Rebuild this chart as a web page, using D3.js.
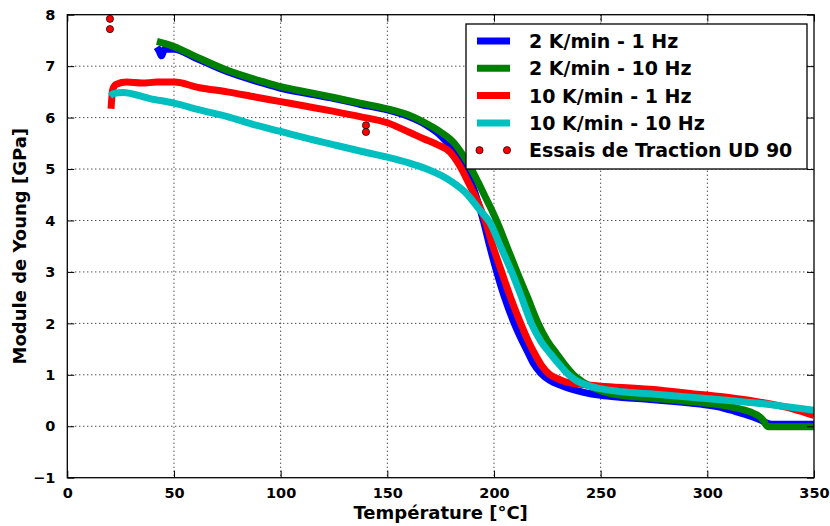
<!DOCTYPE html>
<html><head><meta charset="utf-8">
<script src="https://cdn.jsdelivr.net/npm/d3@7"></script>
<style>
html,body{margin:0;padding:0;background:#fff;}
svg{display:block;font-family:"DejaVu Sans",sans-serif;font-weight:bold;}
</style></head>
<body><svg id="c" width="830" height="526"></svg>
<script>
// Data: [Temperature °C, Young's modulus GPa]
const blue_2K_1Hz = [[42,7.37],[43,7.30],[44.2,7.2],[45.5,7.33],[50,7.33],[60,7.16],[75,6.89],[90,6.69],[100,6.57],[112,6.47],[125,6.37],[137,6.26],[150,6.15],[160,6.02],[168,5.86],[175,5.65],[180,5.42],[184,5.18],[187.5,4.95],[191,4.55],[195,4.0],[198,3.5],[201.3,3.0],[205,2.5],[209.5,2.0],[212.5,1.72],[215.5,1.47],[218.5,1.22],[222,1.03],[226.3,0.89],[231,0.8],[235.6,0.73],[242,0.66],[250,0.6],[260,0.56],[273,0.52],[296.5,0.43],[305,0.38],[313,0.29],[320,0.2],[325,0.12],[328,0.06],[330,0.04],[350,0.04]];
const green_2K_10Hz = [[42,7.48],[50,7.38],[60,7.19],[75,6.92],[90,6.72],[100,6.60],[112,6.50],[125,6.39],[137.2,6.28],[150,6.17],[160,6.05],[168.5,5.88],[175,5.72],[181,5.52],[185,5.3],[189,5.03],[192.5,4.75],[196,4.45],[199,4.2],[202,3.92],[206,3.5],[211,2.98],[216,2.48],[220.5,2.02],[225,1.66],[229.4,1.41],[233.5,1.18],[237.2,1.0],[242,0.85],[247,0.74],[250.5,0.68],[255,0.63],[262,0.59],[273,0.55],[296.5,0.46],[305,0.42],[313,0.36],[320,0.28],[324.7,0.18],[326.5,0.1],[328,0.0],[330,-0.01],[350,-0.01]];
const red_10K_1Hz = [[20.5,6.17],[21.3,6.55],[23,6.65],[27.8,6.69],[35,6.67],[42,6.69],[50,6.69],[62,6.58],[75,6.50],[88,6.40],[100,6.31],[112,6.22],[125,6.12],[137.2,6.02],[150,5.9],[160.6,5.71],[167,5.59],[173.2,5.48],[179.4,5.33],[184,5.06],[188.8,4.67],[192,4.4],[195.8,4.0],[199.5,3.5],[203.6,3.0],[207.8,2.5],[212.5,2.0],[216.5,1.62],[219.5,1.38],[222.5,1.17],[225.5,1.03],[229,0.94],[233,0.87],[238,0.83],[243.5,0.8],[250,0.78],[273,0.72],[296.5,0.62],[310,0.56],[324.7,0.47],[340,0.34],[350,0.21]];
const cyan_10K_10Hz = [[20,6.42],[22,6.47],[26,6.49],[38.8,6.37],[50,6.28],[62,6.15],[75,6.02],[87,5.87],[100,5.73],[112,5.6],[125,5.47],[137.2,5.35],[150,5.23],[160,5.12],[168.5,5.0],[175,4.88],[181,4.73],[187.2,4.52],[193.4,4.2],[198.2,3.95],[203,3.5],[208.3,3.0],[213,2.5],[217.5,2.0],[222,1.65],[227,1.38],[231,1.18],[234.5,1.02],[238.5,0.89],[243.5,0.8],[250,0.73],[260,0.67],[273,0.63],[296.5,0.55],[313,0.49],[330,0.42],[350,0.31]];
const tensileTests = [[20,7.92],[20,7.72],[140,5.85],[140,5.72]];

const seriesNames = ["2 K/min - 1 Hz","2 K/min - 10 Hz","10 K/min - 1 Hz","10 K/min - 10 Hz"];
const pointsName = "Essais de Traction UD 90";
const xTicks = [0,50,100,150,200,250,300,350];
const yTicks = [-1,0,1,2,3,4,5,6,7,8];
const xLabel = "Température [°C]";
const yLabel = "Module de Young [GPa]";

const series = [blue_2K_1Hz, green_2K_10Hz, red_10K_1Hz, cyan_10K_10Hz];
const colors = ["#0000ff","#008000","#ff0000","#00bfbf"];

const svg = d3.select("#c");
const L = 67.3, T = 14.7, R = 814, B = 477.7;
const x = d3.scaleLinear().domain([0,350]).range([L,R]);
const y = d3.scaleLinear().domain([-1,8]).range([B,T]);

// grid
const g = svg.append("g");
g.selectAll(".gx").data(xTicks.slice(1,-1)).join("line")
  .attr("x1",d=>x(d)).attr("x2",d=>x(d)).attr("y1",T).attr("y2",B)
  .attr("stroke","#000").attr("stroke-width",1).attr("stroke-dasharray","1,3");
g.selectAll(".gy").data(yTicks.slice(1,-1)).join("line")
  .attr("y1",d=>y(d)).attr("y2",d=>y(d)).attr("x1",L).attr("x2",R)
  .attr("stroke","#000").attr("stroke-width",1).attr("stroke-dasharray","1,3");

// curves
svg.append("clipPath").attr("id","clp").append("rect")
  .attr("x",L).attr("y",T).attr("width",R-L).attr("height",B-T);
const line = d3.line().x(d=>x(d[0])).y(d=>y(d[1])).curve(d3.curveMonotoneX);
const cg = svg.append("g").attr("clip-path","url(#clp)");
series.forEach((s,i)=>{
  cg.append("path").attr("d",line(s)).attr("fill","none")
    .attr("stroke",colors[i]).attr("stroke-width",7).attr("stroke-linejoin","round");
});
cg.selectAll("circle").data(tensileTests).join("circle")
  .attr("cx",d=>x(d[0])).attr("cy",d=>y(d[1])).attr("r",3.6)
  .attr("fill","#ff0000").attr("stroke","#000").attr("stroke-width",0.7);

// axes (inward ticks on all sides)
const tl = 7;
const axB = d3.axisBottom(x).tickValues(xTicks).tickSize(-tl).tickPadding(10).tickFormat(d3.format("d"));
const axT = d3.axisTop(x).tickValues(xTicks).tickSize(-tl).tickFormat("");
const axL = d3.axisLeft(y).tickValues(yTicks).tickSize(-tl).tickPadding(12).tickFormat(d=>d<0?"\u2212"+Math.abs(d):d);
const axR = d3.axisRight(y).tickValues(yTicks).tickSize(-tl).tickFormat("");
function style(sel){
  sel.select(".domain").remove();
  sel.selectAll(".tick line").attr("stroke","#000").attr("stroke-width",1);
  sel.selectAll("text").attr("font-family","DejaVu Sans").attr("font-weight","bold").attr("font-size",14.5).attr("fill","#000");
}
svg.append("g").attr("transform",`translate(0,${B})`).call(axB).call(style);
svg.append("g").attr("transform",`translate(0,${T})`).call(axT).call(style);
svg.append("g").attr("transform",`translate(${L},0)`).call(axL).call(style);
svg.append("g").attr("transform",`translate(${R},0)`).call(axR).call(style);
svg.append("rect").attr("x",L).attr("y",T).attr("width",R-L).attr("height",B-T)
  .attr("fill","none").attr("stroke","#000").attr("stroke-width",1.3);

// axis labels
svg.append("text").attr("x",(L+R)/2).attr("y",519).attr("text-anchor","middle")
  .attr("font-size",18).text(xLabel);
svg.append("text").attr("transform",`translate(26,${(T+B)/2}) rotate(-90)`)
  .attr("text-anchor","middle").attr("font-size",18).text(yLabel);

// legend
const lg = svg.append("g");
lg.append("rect").attr("x",466).attr("y",24).attr("width",341).attr("height",145)
  .attr("fill","#fff").attr("stroke","#000").attr("stroke-width",1.3);
const rows = seriesNames.concat([pointsName]);
rows.forEach((name,i)=>{
  const cy = 41 + i*27.3;
  if(i<4){
    lg.append("line").attr("x1",477).attr("x2",510).attr("y1",cy).attr("y2",cy)
      .attr("stroke",colors[i]).attr("stroke-width",7);
  } else {
    [479.5,507].forEach(cx=>lg.append("circle").attr("cx",cx).attr("cy",cy).attr("r",3.6)
      .attr("fill","#ff0000").attr("stroke","#000").attr("stroke-width",0.7));
  }
  lg.append("text").attr("x",529).attr("y",cy+7).attr("font-size",19).text(name);
});
</script></body></html>
